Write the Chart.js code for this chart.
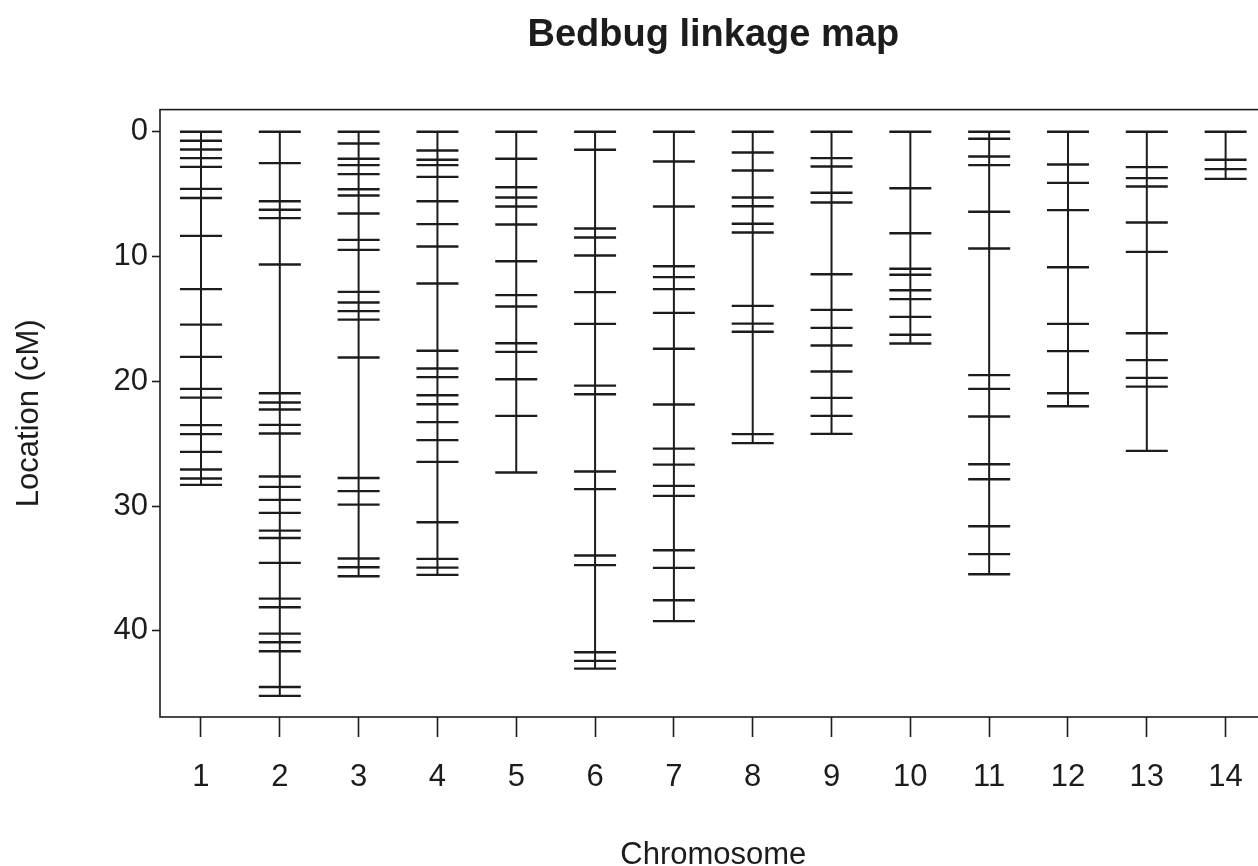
<!DOCTYPE html>
<html>
<head>
<meta charset="utf-8">
<script src="https://cdn.jsdelivr.net/npm/chart.js@4.4.1/dist/chart.umd.min.js"></script>
<style>
  html, body { margin: 0; padding: 0; background: #ffffff; overflow: hidden; }
  #wrap { width: 1290px; height: 866px; }
</style>
</head>
<body>
<div id="wrap"><canvas id="c" width="1290" height="866"></canvas></div>
<script>
// ---- Data (marker positions in cM) ----
const chromosomeLabels = ['1','2','3','4','5','6','7','8','9','10','11','12','13','14'];
const yTickValues = [0, 10, 20, 30, 40];

const chr1  = [0, 0.72, 1.42, 2.11, 2.81, 4.57, 5.31, 8.34, 12.61, 15.45, 18.04, 20.6, 21.3, 23.51, 24.23, 25.65, 27.07, 27.79, 28.3];
const chr2  = [0, 2.51, 5.56, 6.25, 6.92, 10.64, 20.95, 21.7, 22.26, 23.49, 24.18, 27.63, 28.46, 29.5, 30.54, 31.96, 32.55, 34.55, 37.41, 38.1, 40.22, 40.91, 41.63, 44.49, 45.21];
const chr3  = [0, 0.94, 2.16, 2.67, 3.39, 4.6, 5.1, 6.55, 8.66, 9.46, 12.83, 13.68, 14.37, 15.05, 18.09, 27.74, 28.8, 29.88, 34.2, 34.9, 35.62];
const chr4  = [0, 1.5, 2.24, 2.67, 3.61, 5.56, 7.4, 9.19, 12.16, 17.55, 18.97, 19.66, 21.11, 21.83, 23.27, 24.71, 26.45, 31.29, 34.23, 34.93, 35.51];
const chr5  = [0, 2.16, 4.44, 5.27, 5.99, 7.43, 10.37, 13.09, 14.0, 16.94, 17.64, 19.83, 22.77, 27.31];
const chr6  = [0, 1.44, 7.75, 8.47, 9.91, 12.85, 15.39, 20.34, 21.03, 27.23, 28.64, 33.96, 34.73, 41.71, 42.4, 43.02];
const chr7  = [0, 2.38, 5.99, 10.77, 11.65, 12.61, 14.51, 17.39, 21.86, 25.39, 26.67, 28.38, 29.18, 33.53, 34.95, 37.54, 39.22];
const chr8  = [0, 1.66, 3.1, 5.27, 5.96, 7.37, 8.07, 13.95, 15.37, 16.03, 24.23, 24.95];
const chr9  = [0, 2.11, 2.78, 4.89, 5.67, 11.41, 14.27, 15.71, 17.13, 19.21, 21.32, 22.77, 24.21];
const chr10 = [0, 4.52, 8.13, 10.97, 11.46, 12.7, 13.41, 14.83, 16.26, 16.96];
const chr11 = [0, 0.56, 1.98, 2.67, 6.41, 9.35, 19.5, 20.6, 22.82, 26.64, 27.84, 31.61, 33.85, 35.46];
const chr12 = [0, 2.62, 4.09, 6.28, 10.85, 15.39, 17.58, 20.95, 21.99];
const chr13 = [0, 2.83, 3.71, 4.38, 7.27, 9.62, 16.14, 18.3, 19.72, 20.42, 25.57];
const chr14 = [0, 2.24, 2.99, 3.77];

const allChromosomes = [chr1, chr2, chr3, chr4, chr5, chr6, chr7, chr8, chr9, chr10, chr11, chr12, chr13, chr14];

// ---- Build datasets ----
const INK = '#1c1c1c';
const FONT = '"Liberation Sans", Arial, Helvetica, sans-serif';
const datasets = [];

allChromosomes.forEach((pos, i) => {
  const x = i + 1;
  datasets.push({
    type: 'line',
    label: 'chr' + chromosomeLabels[i] + ' backbone',
    data: [{ x: x, y: Math.min(...pos) }, { x: x, y: Math.max(...pos) }],
    borderColor: INK,
    borderWidth: 2,
    pointRadius: 0,
    showLine: true,
    fill: false
  });
});

const markerPoints = [];
allChromosomes.forEach((pos, i) => {
  pos.forEach(v => markerPoints.push({ x: i + 1, y: v }));
});
datasets.push({
  type: 'scatter',
  label: 'markers',
  data: markerPoints,
  pointStyle: 'line',
  pointRadius: 21,
  pointBorderWidth: 2.4,
  pointBorderColor: INK,
  borderColor: INK,
  backgroundColor: INK
});

// Plot box (R-style bty="o")
const boxPlugin = {
  id: 'plotBox',
  afterDraw(chart) {
    const a = chart.chartArea, ctx = chart.ctx;
    ctx.save();
    ctx.strokeStyle = INK;
    ctx.lineWidth = 1.6;
    ctx.strokeRect(a.left, a.top, a.right - a.left, a.bottom - a.top);
    ctx.restore();
  }
};

new Chart(document.getElementById('c'), {
  type: 'scatter',
  data: { datasets },
  plugins: [boxPlugin],
  options: {
    responsive: false,
    animation: false,
    events: [],
    layout: { padding: { left: 0, right: 22, top: 0, bottom: 0 } },
    plugins: {
      legend: { display: false },
      tooltip: { enabled: false },
      title: {
        display: true,
        text: 'Bedbug linkage map',
        color: INK,
        fullSize: false,
        font: { family: FONT, size: 38, weight: 'bold', lineHeight: 1.2 },
        padding: { top: 13, bottom: 51 }
      }
    },
    scales: {
      x: {
        type: 'linear',
        min: 0.48,
        max: 14.52,
        afterBuildTicks(scale) { scale.ticks = chromosomeLabels.map((l, i) => ({ value: i + 1 })); },
        afterFit(scale) { scale.height = 149; },
        ticks: {
          color: INK,
          font: { family: FONT, size: 31 },
          padding: 22,
          maxRotation: 0,
          autoSkip: false,
          callback: (v) => chromosomeLabels[v - 1]
        },
        grid: { drawOnChartArea: false, drawTicks: true, tickLength: 20, tickColor: INK, tickWidth: 1.6 },
        border: { display: false },
        title: {
          display: true,
          text: 'Chromosome',
          color: INK,
          font: { family: FONT, size: 31, lineHeight: 0.7 },
          padding: { top: 0, bottom: 0 }
        }
      },
      y: {
        type: 'linear',
        reverse: true,
        min: -1.78,
        max: 46.9,
        afterBuildTicks(scale) { scale.ticks = yTickValues.map(v => ({ value: v })); },
        afterFit(scale) { scale.width = 160; },
        ticks: {
          color: INK,
          font: { family: FONT, size: 31 },
          padding: 4,
          autoSkip: false
        },
        grid: { drawOnChartArea: false, drawTicks: true, tickLength: 8, tickColor: INK, tickWidth: 1.6 },
        border: { display: false },
        title: {
          display: true,
          text: 'Location (cM)',
          color: INK,
          font: { family: FONT, size: 31, lineHeight: 1.2 },
          padding: { top: 11, bottom: 0 }
        }
      }
    }
  }
});
</script>
</body>
</html>
